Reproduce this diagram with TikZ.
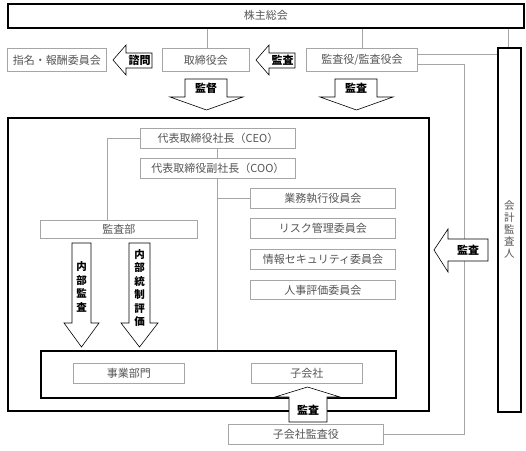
\documentclass[tikz,border=0pt]{standalone}
\usepackage{fontspec}
\newfontfamily\jp{Noto Sans CJK JP}
\usetikzlibrary{calc}
\definecolor{boxgray}{HTML}{A6A6A6}
\definecolor{txtgray}{HTML}{555555}
\tikzset{
  gbox/.style={draw=boxgray, line width=0.9pt, fill=white, inner sep=0pt, anchor=north west,
    font=\jp\fontsize{11}{12}\selectfont, text=txtgray},
  kbox/.style={draw=black, line width=1.6pt, inner sep=0pt, anchor=north west},
  conn/.style={draw=boxgray, line width=0.9pt},
  barrow/.style={draw=black, line width=0.6pt, fill=white, line join=miter},
  alabel/.style={font=\jp\bfseries\fontsize{11}{12}\selectfont, inner sep=0pt},
  vlabel/.style={font=\jp\bfseries\fontsize{10.5}{13.5}\selectfont, align=center, inner sep=0pt}
}
\begin{document}
\begin{tikzpicture}[x=1pt,y=-1pt]
\useasboundingbox (0,0) rectangle (526,450);
% thick frames
\node[kbox, minimum width=516pt, minimum height=24pt, font=\jp\fontsize{11}{12}\selectfont, text=txtgray] (kabu) at (7,3) {株主総会};
\node[kbox, minimum width=421pt, minimum height=293pt] (big) at (7,117) {};
\node[kbox, minimum width=23pt, minimum height=364pt] (kaikei) at (497,47) {};
\node[font=\jp\fontsize{10.5}{12}\selectfont, text=txtgray, align=center, inner sep=0pt] (kaikeilbl) at (kaikei.center) {会\\計\\監\\査\\人};
\node[kbox, minimum width=355pt, minimum height=47pt] (biz) at (40,350) {};
% top row boxes
\node[gbox, minimum width=99pt, minimum height=23pt] (shimei) at (7,48) {指名・報酬委員会};
\node[gbox, minimum width=87pt, minimum height=23pt] (tori) at (162,48) {取締役会};
\node[gbox, minimum width=111pt, minimum height=23pt] (kansayaku) at (306,48) {監査役/監査役会};
% inner boxes
\node[gbox, minimum width=155pt, minimum height=20pt] (ceo) at (140,128) {代表取締役社長（CEO）};
\node[gbox, minimum width=155pt, minimum height=20pt] (coo) at (140,158) {代表取締役副社長（COO）};
\node[gbox, minimum width=157pt, minimum height=18pt] (kansabu) at (40,220) {監査部};
\node[gbox, minimum width=145pt, minimum height=20pt] (gyomu) at (250,188) {業務執行役員会};
\node[gbox, minimum width=145pt, minimum height=20pt] (risk) at (250,218) {リスク管理委員会};
\node[gbox, minimum width=145pt, minimum height=20pt] (joho) at (250,249) {情報セキュリティ委員会};
\node[gbox, minimum width=145pt, minimum height=19pt] (jinji) at (250,280) {人事評価委員会};
\node[gbox, minimum width=111pt, minimum height=20pt] (jigyo) at (73,363) {事業部門};
\node[gbox, minimum width=111pt, minimum height=20pt] (kogaisha) at (251,363) {子会社};
\node[gbox, minimum width=155pt, minimum height=20pt] (kokansa) at (228,424) {子会社監査役};
% connectors
\draw[conn] (207,27 |- kabu.south) -- (207,27 |- tori.north);
\draw[conn] (kansayaku.north) -- (kansayaku.north |- kabu.south);
\draw[conn] (508,27 |- kabu.south) -- (508,27 |- kaikei.north);
\draw[conn] (kansayaku.east |- 0,54) -- (kaikei.west |- 0,54);
\coordinate (c1) at (464,64);
\draw[conn] (kansayaku.east |- c1) -- (c1) |- (kokansa.east);
\draw[conn] (ceo.south -| 217,0) -- (coo.north -| 217,0);
\coordinate (k1) at (107,220);
\draw[conn] (ceo.west) -| (k1);
\coordinate (c2) at (217,178);
\draw[conn] (c2) -- (c2 |- biz.north);
\draw[conn] (c2 |- gyomu.west) -- (gyomu.west);
% block arrows
\draw[barrow] (113,60) -- (126,45) -- (126,53) -- (152,53) -- (152,68) -- (126,68) -- (126,75) -- cycle;
\node[alabel] (a1) at (139.5,60.5) {諮問};
\draw[barrow] (256,60) -- (269,45) -- (269,53) -- (295,53) -- (295,68) -- (269,68) -- (269,75) -- cycle;
\node[alabel] (a2) at (282.5,60.5) {監査};
\draw[barrow] (185,79) -- (227,79) -- (227,97) -- (243,97) -- (206.5,110) -- (170,97) -- (185,97) -- cycle;
\node[alabel] (a3) at (206,88) {監督};
\draw[barrow] (335,79) -- (377,79) -- (377,97) -- (393,97) -- (356.5,110) -- (320,97) -- (335,97) -- cycle;
\node[alabel] (a4) at (356,88) {監査};
\draw[barrow] (434,250) -- (448,229) -- (448,239) -- (488,239) -- (488,261) -- (448,261) -- (448,272) -- cycle;
\node[alabel] (a5) at (468,250) {監査};
\draw[barrow] (72,243) -- (91,243) -- (91,323) -- (99,323) -- (81.5,347) -- (64,323) -- (72,323) -- cycle;
\node[vlabel] (a6) at (81.5,287) {内\\部\\監\\査};
\draw[barrow] (129,243) -- (150,243) -- (150,323) -- (158,323) -- (139.5,347) -- (121,323) -- (129,323) -- cycle;
\node[vlabel] (a7) at (139.5,288) {内\\部\\統\\制\\評\\価};
\draw[barrow] (307.5,387) -- (340,397) -- (327,397) -- (327,422) -- (289,422) -- (289,397) -- (275,397) -- cycle;
\node[alabel] (a8) at (308,410) {監査};
\end{tikzpicture}
\end{document}
